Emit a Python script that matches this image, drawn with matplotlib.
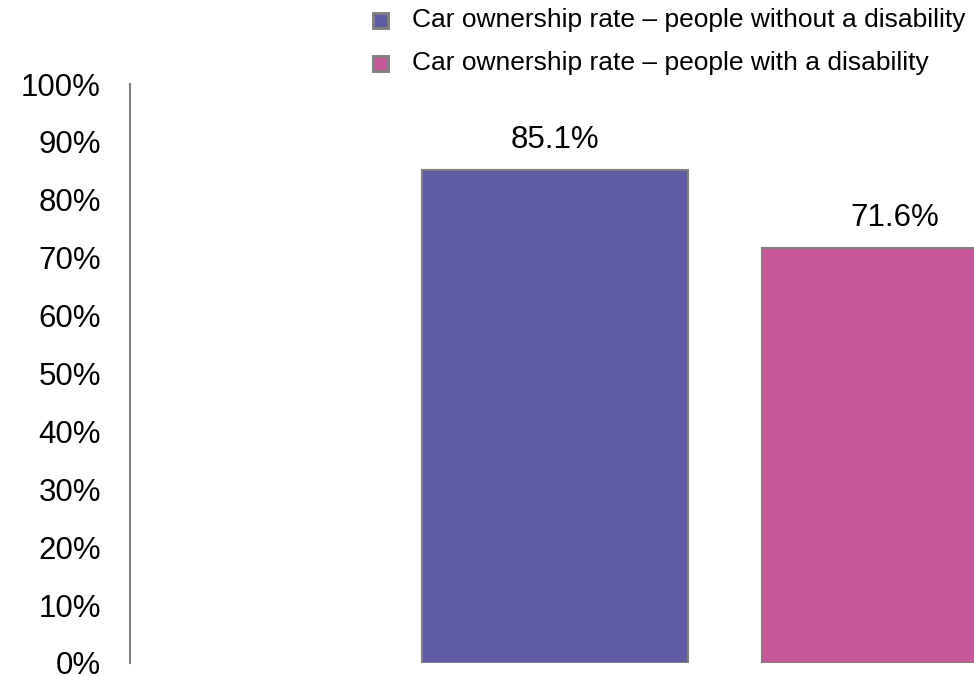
import matplotlib
matplotlib.use("Agg")
import matplotlib.pyplot as plt
from matplotlib.patches import Rectangle
from matplotlib.ticker import PercentFormatter

plt.rcParams['font.family'] = ['Liberation Sans', 'DejaVu Sans']

categories = ["Car ownership rate – people without a disability",
              "Car ownership rate – people with a disability"]
values = [85.1, 71.6]
colors = ["#5F5BA5", "#C8589A"]
yticks = [0, 10, 20, 30, 40, 50, 60, 70, 80, 90, 100]

W, H = 974, 676
fig = plt.figure(figsize=(W / 100, H / 100), dpi=100)
ax = fig.add_axes([130 / W, 13 / H, (W - 130) / W, 579 / H])

x = [0, 1]
ax.bar(x, values, width=0.782, color=colors, edgecolor="#808080", linewidth=1.5)
for xi, v in zip(x, values):
    ax.annotate(f"{v:.1f}%", (xi, v), xytext=(0, 11), textcoords="offset points",
                ha="center", va="bottom", fontsize=22.5)

ax.set_xlim(-1.25, 1.232)
ax.set_ylim(0, 100)
ax.set_yticks(yticks)
ax.yaxis.set_major_formatter(PercentFormatter(decimals=0))
ax.tick_params(axis='y', length=0, pad=21, labelsize=22.5)
ax.set_xticks([])
for s in ["top", "right", "bottom"]:
    ax.spines[s].set_visible(False)
ax.spines["left"].set_color("#808080")
ax.spines["left"].set_linewidth(1.5)

# legend (figure pixel coordinates, measured from top)
for i, (lab, c) in enumerate(zip(categories, colors)):
    yc = 20 + 43 * i
    fig.patches.append(Rectangle(((372.5) / W, 1 - (yc + 7.5) / H), 15 / W, 15 / H,
                                 transform=fig.transFigure, facecolor=c,
                                 edgecolor="#808080", linewidth=2.1))
    fig.text(412 / W, 1 - yc / H, lab, ha="left", va="center", fontsize=19)

fig.savefig("out.png", dpi=100)
